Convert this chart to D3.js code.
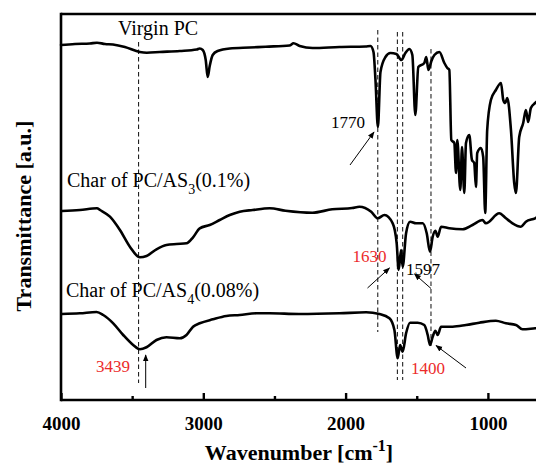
<!DOCTYPE html>
<html><head><meta charset="utf-8">
<script src="https://cdn.jsdelivr.net/npm/d3@7"></script>
<style>body{margin:0;background:#fff}svg{display:block}</style>
</head><body>
<svg id="c" width="536" height="465"></svg>
<script>
// ---- data (wavenumber in cm^-1, transmittance in a.u.) ----
const pcWave = [4000,3902,3797,3747,3691,3635,3551,3446,3397,3306,3165,3046,3025,3004,2983,2969,2955,2934,2899,2814,2674,2562,2394,2366,2323,2232,2043,1860,1825,1804,1790,1773,1755,1720,1685,1643,1608,1580,1552,1531,1510,1489,1447,1433,1418,1397,1376,1341,1306,1285,1271,1257,1236,1224,1215,1194,1182,1166,1154,1131,1112,1096,1084,1075,1049,1033,1019,1005,979,944,908,892,878,864,838,815,803,780,752,733,717,698,668,640];
const pcT = [355,356,356.5,357.3,356,355.5,353,348,347.3,348,349,350.5,351.5,350,340,323,334,345,349,351.5,352.5,353.3,354.5,356.7,354,352,353,353.5,354,348,320,273,328,343,347,346,340,347,351,345,285,333,337,343,330,339,345,348,337,332,330,260,257,227,260,210,253,207,257,265,240,237,213,247,252,243,187,270,300,310,317,300,297,302,270,217,207,263,277,290,278,292,297,300];

const as3Wave = [3995,3867,3747,3726,3656,3586,3516,3446,3399,3329,3259,3188,3118,3072,3025,2955,2885,2814,2744,2653,2534,2422,2234,2094,1954,1903,1820,1774,1727,1669,1641,1627,1610,1599,1575,1547,1505,1458,1430,1407,1388,1369,1353,1329,1271,1178,1108,1038,1014,920,873,827,768,733,668,640];
const as3T = [189,190,191.7,190,183.3,170,153.3,142.7,144,150.7,155,156,156.7,162.7,171.7,175,180,185,188.3,190,191.7,189.3,187.3,190.7,192,193.3,188.3,181.7,185,176.7,156.7,130,150,133.3,166.7,178.3,176.7,176.7,166.7,148.3,163.3,169.3,163.3,173.3,171.7,170.7,175,180,176.7,186.7,181.7,176.7,173.3,178.3,181.7,184];

const as4Wave = [3995,3867,3750,3703,3633,3563,3493,3446,3399,3329,3259,3165,3118,3072,3025,2932,2838,2744,2627,2534,2328,2043,1856,1762,1692,1657,1634,1617,1599,1575,1547,1493,1447,1423,1407,1388,1369,1353,1329,1248,1154,1061,944,873,803,757,668,640];
const as4T = [86,86.7,88,85,76.7,65,55,50.7,52.7,60,62.7,61.7,65,73.3,76.7,80.7,84,85,86.7,86.7,86,86.7,87.7,86,81.7,70,41.7,55,48.3,66.7,77.3,77.3,75,65,55,63.3,69.3,65,73.3,73.3,75,77.3,79.3,76.7,75,70.7,71.7,72];

const seriesNames = ["Virgin PC", "Char of PC/AS", "Char of PC/AS"];
const markerWaves = [3455, 1774, 1636, 1599, 1400];
const peakLabels = ["3439", "1770", "1630", "1597", "1400"];
const xTickValues = [4000, 3500, 3000, 2500, 2000, 1500, 1000, 500];
const xTickLabels = ["4000", "", "3000", "", "2000", "", "1000", ""];

// ---- drawing ----
const svg = d3.select("#c");
const serif = "'Liberation Serif','Times New Roman',Times,serif";
const red = "#ec2b2b";
const L = 61, T = 14, B = 400;
const x = d3.scaleLinear().domain([4000, 400]).range([L, L + 3600 * 0.1423]);
const y = d3.scaleLinear().domain([0, 386]).range([B, T]);

// arrow marker
svg.append("defs").append("marker")
  .attr("id", "ah").attr("viewBox", "0 0 10 10").attr("refX", 9).attr("refY", 5)
  .attr("markerWidth", 7).attr("markerHeight", 7).attr("orient", "auto")
  .attr("markerUnits", "userSpaceOnUse")
  .append("path").attr("d", "M0,1 L10,5 L0,9 Z").attr("fill", "#000");

// dashed marker lines
const dashSpan = [[42, 383], [30, 332], [32, 380], [32, 380], [49, 346]];
markerWaves.forEach((w, i) => {
  svg.append("line")
    .attr("x1", x(w)).attr("x2", x(w))
    .attr("y1", dashSpan[i][0]).attr("y2", dashSpan[i][1])
    .attr("stroke", "#222").attr("stroke-width", 1.1)
    .attr("stroke-dasharray", "4.5,3");
});

// spectra
const line = d3.line().x(d => x(d[0])).y(d => y(d[1])).curve(d3.curveMonotoneX);
[[pcWave, pcT], [as3Wave, as3T], [as4Wave, as4T]].forEach(([w, t]) => {
  svg.append("path").datum(d3.zip(w, t)).attr("d", line)
    .attr("fill", "none").attr("stroke", "#000").attr("stroke-width", 2.6)
    .attr("stroke-linejoin", "round").attr("stroke-linecap", "round");
});

// frame
svg.append("line").attr("x1", L).attr("x2", 540).attr("y1", T).attr("y2", T)
  .attr("stroke", "#000").attr("stroke-width", 2.6);
svg.append("line").attr("x1", L).attr("x2", L).attr("y1", T - 1.3).attr("y2", B + 1.3)
  .attr("stroke", "#000").attr("stroke-width", 2.6);

// x axis
const xAxis = d3.axisBottom(x).tickValues(xTickValues)
  .tickSize(0).tickFormat((d, i) => xTickLabels[i]).tickPadding(17);
const gx = svg.append("g").attr("transform", `translate(0,${B})`).call(xAxis);
gx.select(".domain").remove();
gx.selectAll(".tick line").remove();
gx.selectAll(".tick").append("line")
  .attr("y1", 0).attr("y2", (d, i) => xTickLabels[i] ? -7 : -4)
  .attr("stroke", "#000").attr("stroke-width", 2.4);
gx.selectAll(".tick text").attr("font-family", serif).attr("font-size", 19)
  .attr("font-weight", "bold").attr("fill", "#000");
svg.append("line").attr("x1", L).attr("x2", 540).attr("y1", B).attr("y2", B)
  .attr("stroke", "#000").attr("stroke-width", 2.6);

// axis titles
const xt = svg.append("text").attr("x", 299).attr("y", 460).attr("text-anchor", "middle")
  .attr("font-family", serif).attr("font-size", 22).attr("font-weight", "bold");
xt.append("tspan").text("Wavenumber [cm");
xt.append("tspan").attr("dy", -9).attr("font-size", 16).text("-1");
xt.append("tspan").attr("dy", 9).text("]");

svg.append("text").attr("transform", "translate(31,216) rotate(-90)")
  .attr("text-anchor", "middle").attr("font-family", serif).attr("font-size", 22)
  .attr("font-weight", "bold").text("Transmittance [a.u.]");

// series labels
svg.append("text").attr("x", 118).attr("y", 35).attr("font-family", serif)
  .attr("font-size", 20).text(seriesNames[0]);
const s3 = svg.append("text").attr("x", 67).attr("y", 187).attr("font-family", serif).attr("font-size", 20);
s3.append("tspan").text(seriesNames[1]);
s3.append("tspan").attr("dy", 7).attr("font-size", 14).text("3");
s3.append("tspan").attr("dy", -7).text("(0.1%)");
const s4 = svg.append("text").attr("x", 66).attr("y", 297).attr("font-family", serif).attr("font-size", 20);
s4.append("tspan").text(seriesNames[2]);
s4.append("tspan").attr("dy", 7).attr("font-size", 14).text("4");
s4.append("tspan").attr("dy", -7).text("(0.08%)");

// peak labels & arrows
const ann = [
  {t: peakLabels[0], x: 96, y: 372, c: red, a: [145.7, 388, 145.7, 355]},
  {t: peakLabels[1], x: 331, y: 128, c: "#000", a: [350, 165, 374, 132]},
  {t: peakLabels[2], x: 352.5, y: 262, c: red, a: [367.5, 288, 389.5, 268]},
  {t: peakLabels[3], x: 406, y: 275, c: "#000", a: [431, 288.5, 414.5, 274]},
  {t: peakLabels[4], x: 411, y: 374, c: red, a: [466, 368, 436, 345.5]}
];
ann.forEach(d => {
  svg.append("text").attr("x", d.x).attr("y", d.y).attr("font-family", serif)
    .attr("font-size", 17).attr("fill", d.c).text(d.t);
  svg.append("line").attr("x1", d.a[0]).attr("y1", d.a[1]).attr("x2", d.a[2]).attr("y2", d.a[3])
    .attr("stroke", "#000").attr("stroke-width", 1).attr("marker-end", "url(#ah)");
});
</script>
</body></html>
